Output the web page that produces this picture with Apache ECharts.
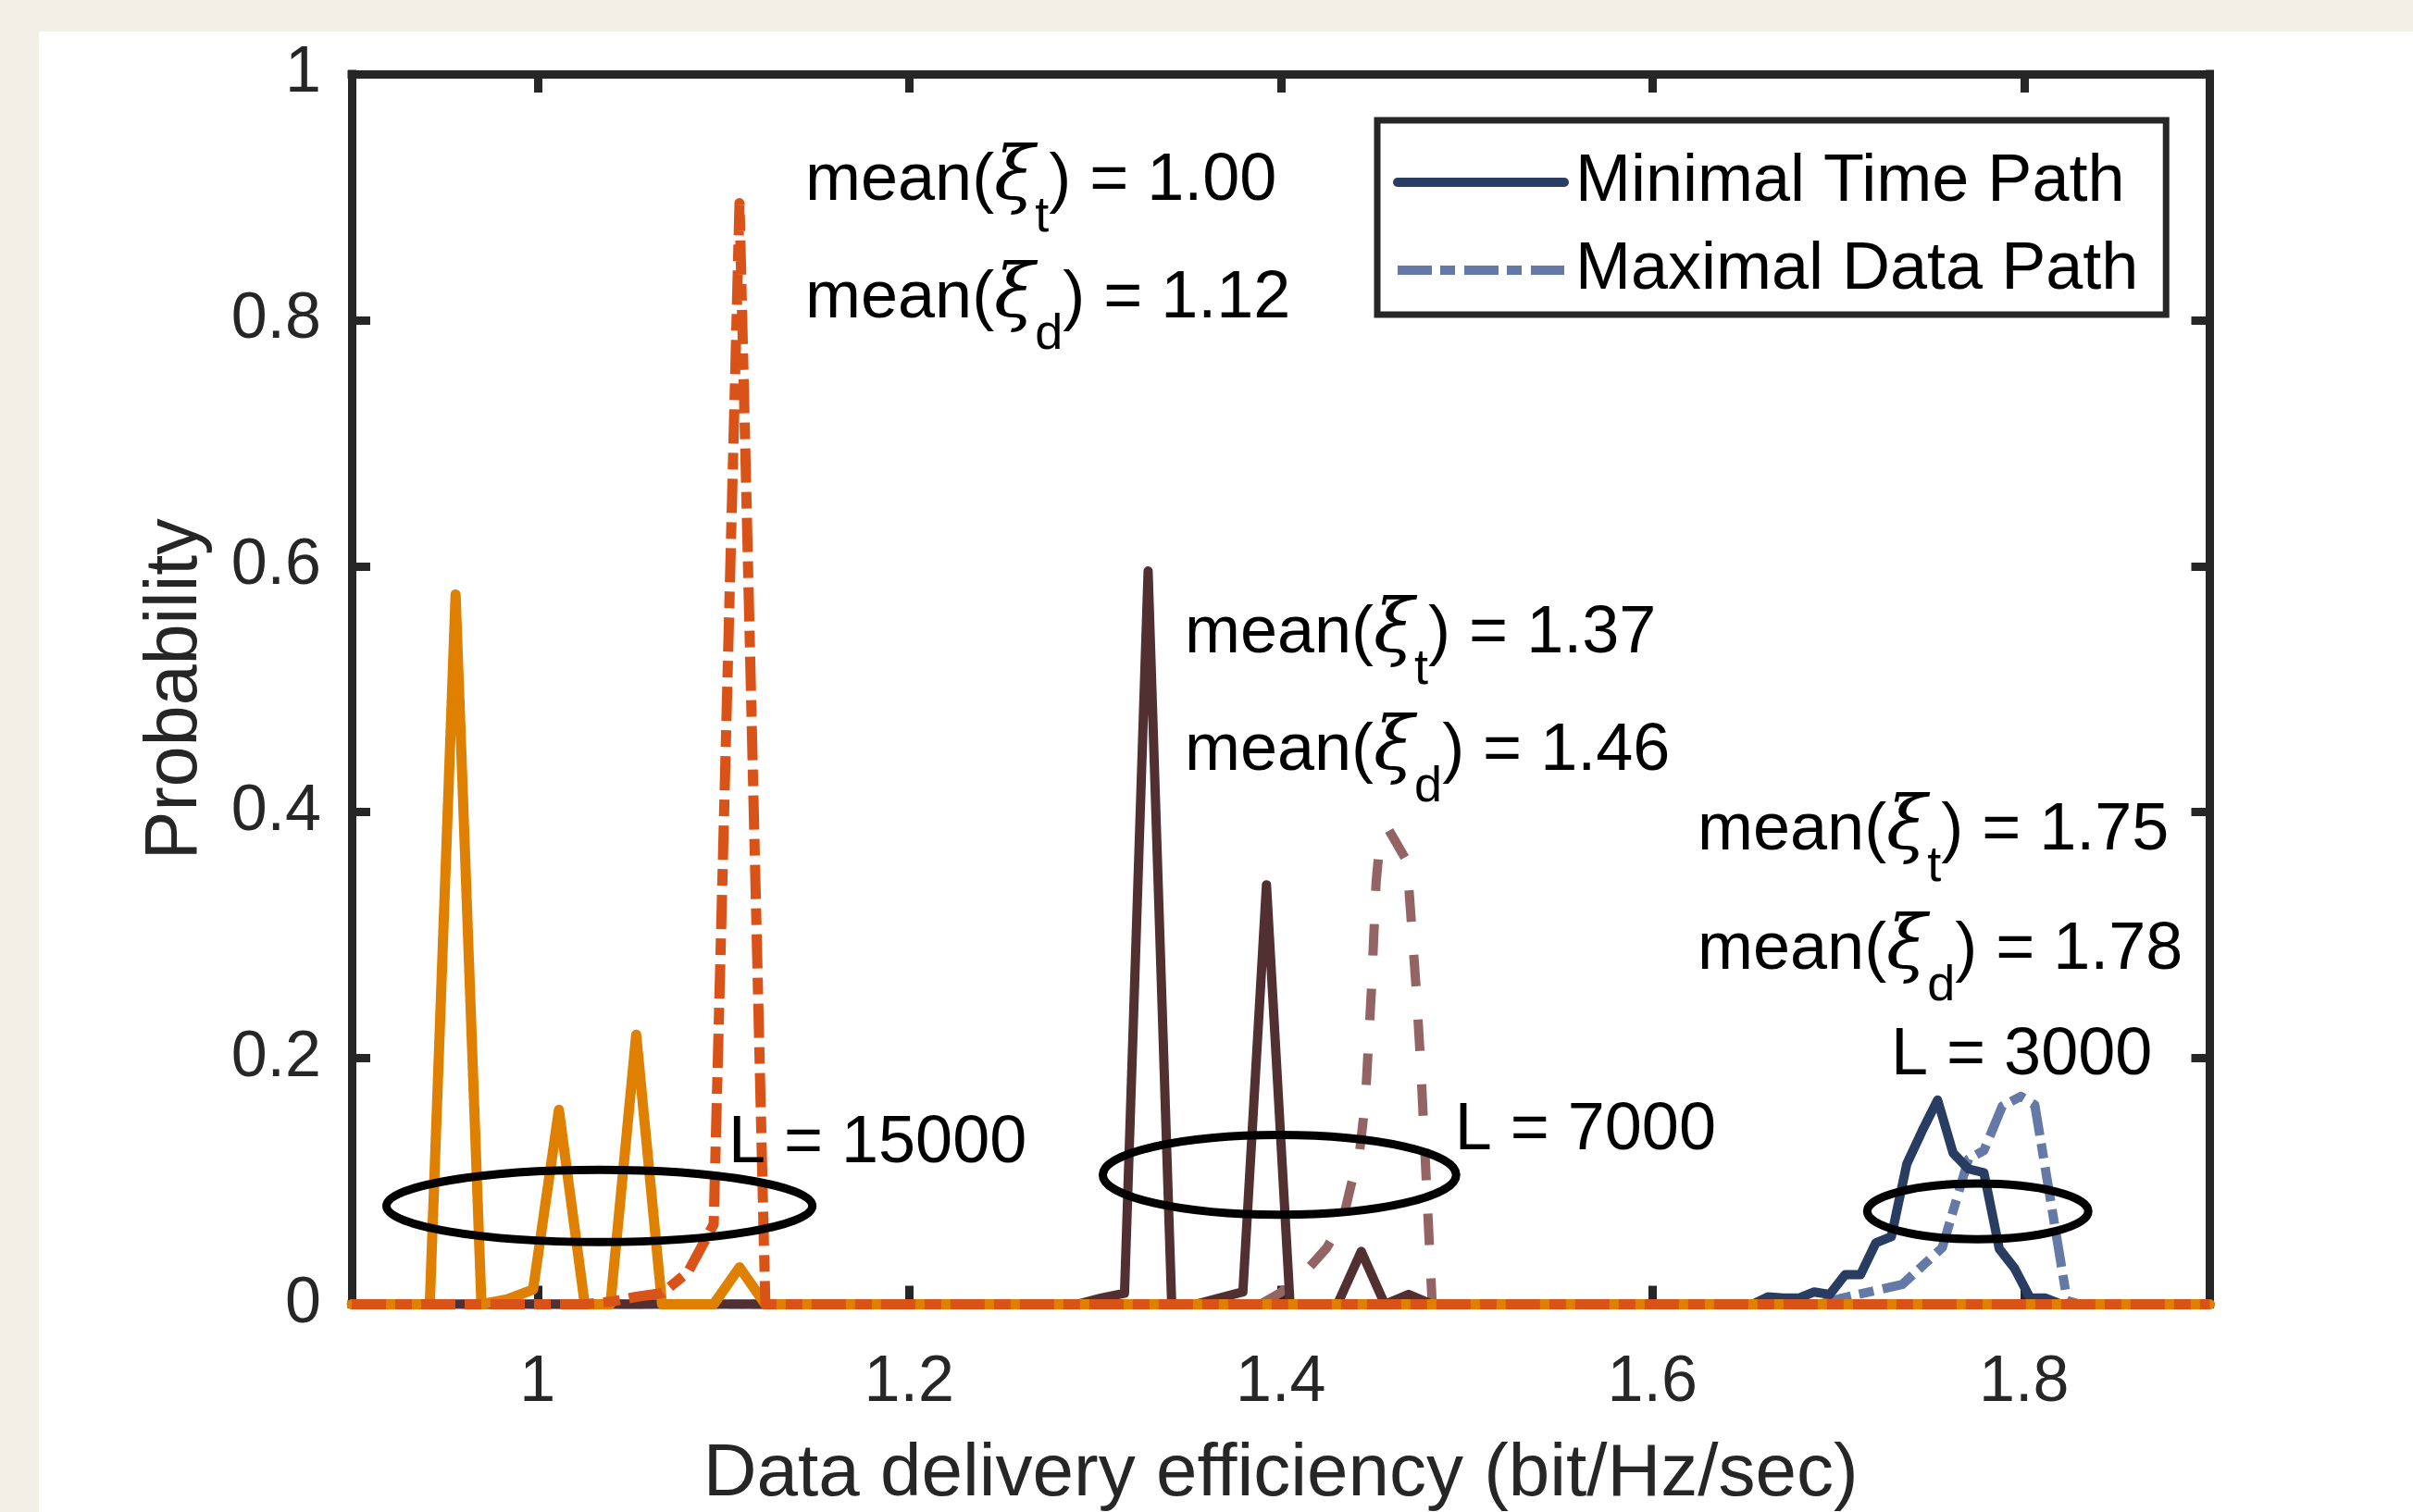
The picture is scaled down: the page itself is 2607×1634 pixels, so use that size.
<!DOCTYPE html>
<html>
<head>
<meta charset="utf-8">
<script src="https://cdn.jsdelivr.net/npm/echarts@6/dist/echarts.min.js"></script>
<style>
html,body{margin:0;padding:0;background:#F2EFE7;width:2607px;height:1634px;overflow:hidden;}
#chart{position:absolute;left:42px;top:34px;width:2565px;height:1600px;background:#ffffff;}
</style>
</head>
<body>
<div id="chart"></div>
<script>
// ---------------- DATA ----------------
const xTicks = [1, 1.2, 1.4, 1.6, 1.8];
const yTicks = [0, 0.2, 0.4, 0.6, 0.8, 1];

// L = 15000, Minimal Time Path (orange solid)
const minTime15000X = [0.9, 0.9281, 0.9420, 0.9559, 0.9698, 0.9837, 0.9976, 1.0115, 1.0254, 1.0392, 1.0531, 1.0670, 1.0809, 1.0948, 1.1087, 1.1226, 1.9];
const minTime15000Y = [0, 0, 0, 0.577, 0, 0.004, 0.012, 0.158, 0, 0, 0.219, 0, 0, 0, 0.030, 0, 0];

// L = 15000, Maximal Data Path (red dash-dot)
const maxData15000X = [0.9, 1.0254, 1.0392, 1.0531, 1.0670, 1.0809, 1.0948, 1.1087, 1.1226, 1.9];
const maxData15000Y = [0, 0, 0.002, 0.006, 0.009, 0.026, 0.065, 0.895, 0, 0];

// L = 7000, Minimal Time Path (dark brown solid)
const minTime7000X = [0.9, 1.2904, 1.3031, 1.3159, 1.3286, 1.3413, 1.3541, 1.3668, 1.3796, 1.3923, 1.4050, 1.4178, 1.4305, 1.4433, 1.4560, 1.4688, 1.4815, 1.9];
const minTime7000Y = [0, 0, 0.005, 0.009, 0.596, 0, 0, 0.005, 0.010, 0.341, 0, 0, 0, 0.043, 0, 0.008, 0, 0];

// L = 7000, Maximal Data Path (mauve dashed)
const maxData7000X = [0.9, 1.389, 1.3994, 1.4124, 1.4248, 1.4333, 1.4380, 1.4422, 1.4455, 1.4488, 1.4513, 1.4530, 1.4580, 1.4679, 1.4729, 1.4753, 1.4815, 1.9];
const maxData7000Y = [0, 0, 0.009, 0.025, 0.046, 0.068, 0.098, 0.121, 0.165, 0.256, 0.343, 0.370, 0.386, 0.360, 0.256, 0.195, 0, 0];

// L = 3000, Minimal Time Path (navy solid)
const minTime3000X = [0.9, 1.6539, 1.6622, 1.6705, 1.6788, 1.6871, 1.6954, 1.7037, 1.7120, 1.7203, 1.7286, 1.7369, 1.7452, 1.7535, 1.7618, 1.7701, 1.7784, 1.7867, 1.7950, 1.8033, 1.8116, 1.8199, 1.9];
const minTime3000Y = [0, 0, 0.006, 0.005, 0.005, 0.010, 0.008, 0.024, 0.024, 0.050, 0.055, 0.114, 0.141, 0.166, 0.123, 0.110, 0.107, 0.045, 0.029, 0.005, 0.005, 0, 0];

// L = 3000, Maximal Data Path (slate blue dash-dot)
const maxData3000X = [0.9, 1.690, 1.702, 1.7344, 1.756, 1.7701, 1.7784, 1.7883, 1.7983, 1.8058, 1.8232, 1.830, 1.9];
const maxData3000Y = [0, 0, 0.005, 0.016, 0.046, 0.118, 0.125, 0.161, 0.169, 0.162, 0.003, 0, 0];

// annotation ellipses (data units)
const ellipseCX = [1.0333, 1.3993, 1.7751];
const ellipseCY = [0.0799, 0.1052, 0.0755];
const ellipseRX = [0.1146, 0.0951, 0.0595];
const ellipseRY = [0.0293, 0.0324, 0.0226];

// annotation texts (anchor = left / baseline, data units)
const meanLabels = [
  {x: 1.1441, y: 0.8975, sub: 't', val: '1.00'},
  {x: 1.1441, y: 0.8020, sub: 'd', val: '1.12'},
  {x: 1.3483, y: 0.5295, sub: 't', val: '1.37'},
  {x: 1.3483, y: 0.4340, sub: 'd', val: '1.46'},
  {x: 1.6243, y: 0.3698, sub: 't', val: '1.75'},
  {x: 1.6243, y: 0.2728, sub: 'd', val: '1.78'}
];
const lengthLabels = [
  {x: 1.1027, y: 0.1150, text: 'L = 15000'},
  {x: 1.4936, y: 0.1257, text: 'L = 7000'},
  {x: 1.7284, y: 0.1865, text: 'L = 3000'}
];

// ---------------- CHART ----------------
const zip = (xs, ys) => xs.map((x, i) => [x, ys[i]]);
const AX = '#262626';
const FONT = 'Liberation Sans';

const chart = echarts.init(document.getElementById('chart'), null, {renderer: 'canvas'});

function axisCommon(extra) {
  return Object.assign({
    type: 'value',
    axisLine: {show: true, onZero: false, lineStyle: {color: AX, width: 9, cap: 'square'}},
    splitLine: {show: false}
  }, extra);
}

const xLabelStyle = {show: true, customValues: xTicks, margin: 50, fontSize: 70, color: AX, fontFamily: FONT};
const xTickStyle = {show: true, inside: true, length: 20, customValues: xTicks, lineStyle: {color: AX, width: 9}};
const yTickStyle = {show: true, inside: true, length: 20, lineStyle: {color: AX, width: 9}};

const option = {
  animation: false,
  backgroundColor: '#ffffff',
  grid: {left: 338, top: 46, right: 219.5, bottom: 224.5, containLabel: false, outerBoundsMode: 'none'},
  xAxis: [
    axisCommon({position: 'bottom', min: 0.9, max: 1.9,
      axisTick: xTickStyle, axisLabel: xLabelStyle,
      name: 'Data delivery efficiency (bit/Hz/sec)', nameLocation: 'middle', nameGap: 144,
      nameTextStyle: {fontSize: 80, color: AX, fontFamily: FONT}}),
    axisCommon({position: 'top', min: 0.9, max: 1.9,
      axisTick: xTickStyle, axisLabel: {show: false}})
  ],
  yAxis: [
    axisCommon({position: 'left', min: yTicks[0], max: yTicks[yTicks.length - 1], interval: 0.2,
      axisTick: yTickStyle,
      axisLabel: {show: true, margin: 33, fontSize: 70, color: AX, fontFamily: FONT},
      name: 'Probability', nameLocation: 'middle', nameGap: 150,
      nameTextStyle: {fontSize: 79, color: AX, fontFamily: FONT}}),
    axisCommon({position: 'right', min: yTicks[0], max: yTicks[yTicks.length - 1], interval: 0.2,
      axisTick: yTickStyle, axisLabel: {show: false}})
  ],
  legend: {
    data: ['Minimal Time Path', 'Maximal Data Path'],
    orient: 'vertical', left: 1446, top: 96,
    itemWidth: 180, itemHeight: 20, itemGap: 15,
    padding: [27, 30, 8, 17],
    backgroundColor: '#ffffff', borderColor: AX, borderWidth: 7, borderRadius: 0,
    selectedMode: false,
    itemStyle: {opacity: 0},
    lineStyle: {width: 10},
    textStyle: {fontSize: 72, fontFamily: FONT, color: '#000', lineHeight: 80, padding: [0, 0, 0, 7]}
  },
  series: [
    {name: 'Maximal Data Path', type: 'line', symbol: 'none', data: zip(maxData3000X, maxData3000Y),
      itemStyle: {color: '#6479A6'},
      lineStyle: {color: '#6479A6', width: 10, type: [37, 9, 16, 10], cap: 'butt', join: 'round'}},
    {name: 'Minimal Time Path', type: 'line', symbol: 'none', data: zip(minTime3000X, minTime3000Y),
      itemStyle: {color: '#293D63'},
      lineStyle: {color: '#293D63', width: 10, type: 'solid', cap: 'round', join: 'round'}},
    {name: 'Maximal Data Path (L=7000)', type: 'line', symbol: 'none', data: zip(maxData7000X, maxData7000Y),
      itemStyle: {color: '#946464'},
      lineStyle: {color: '#946464', width: 10, type: [34, 36], cap: 'butt', join: 'round'}},
    {name: 'Minimal Time Path (L=7000)', type: 'line', symbol: 'none', data: zip(minTime7000X, minTime7000Y),
      itemStyle: {color: '#522F30'},
      lineStyle: {color: '#522F30', width: 10, type: 'solid', cap: 'round', join: 'round'}},
    {name: 'Minimal Time Path (L=15000)', type: 'line', symbol: 'none', data: zip(minTime15000X, minTime15000Y),
      itemStyle: {color: '#E08000'},
      lineStyle: {color: '#E08000', width: 11, type: 'solid', cap: 'round', join: 'round'}},
    {name: 'Maximal Data Path (L=15000)', type: 'line', symbol: 'none', data: zip(maxData15000X, maxData15000Y),
      itemStyle: {color: '#D95319'},
      lineStyle: {color: '#D95319', width: 11, type: [37, 10, 18, 10], cap: 'butt', join: 'round'}}
  ]
};
chart.setOption(option);

// ---------------- ANNOTATIONS (positioned through the axes) ----------------
const toPx = (x, y) => chart.convertToPixel({xAxisIndex: 0, yAxisIndex: 0}, [x, y]);
const graphics = [];
for (let i = 0; i < ellipseCX.length; i++) {
  const c = toPx(ellipseCX[i], ellipseCY[i]);
  const ex = toPx(ellipseCX[i] + ellipseRX[i], ellipseCY[i]);
  const ey = toPx(ellipseCX[i], ellipseCY[i] + ellipseRY[i]);
  graphics.push({type: 'ellipse', z: 100, silent: true,
    shape: {cx: c[0], cy: c[1], rx: Math.abs(ex[0] - c[0]), ry: Math.abs(c[1] - ey[1])},
    style: {fill: 'none', stroke: '#000', lineWidth: 9}});
}
const MAIN = 72, BASE_OFF = 56;
const richStyles = {
  m: {fontSize: MAIN, fontFamily: FONT, fill: '#000', verticalAlign: 'top'},
  g: {fontSize: 80, fontFamily: 'DejaVu Serif', fontStyle: 'italic', fill: '#000', verticalAlign: 'top', padding: [-6, 0, 0, 0]},
  s: {fontSize: 54, fontFamily: FONT, fill: '#000', verticalAlign: 'top', padding: [48, 0, 0, 0]}
};
meanLabels.forEach(lb => {
  const p = toPx(lb.x, lb.y);
  graphics.push({type: 'text', z: 100, silent: true, x: p[0], y: p[1] - BASE_OFF,
    style: {text: '{m|mean(}{g|ξ}{s|' + lb.sub + '}{m|) = ' + lb.val + '}', rich: richStyles,
      align: 'left', verticalAlign: 'top', fontSize: MAIN, fontFamily: FONT, fill: '#000'}});
});
lengthLabels.forEach(lb => {
  const p = toPx(lb.x, lb.y);
  graphics.push({type: 'text', z: 100, silent: true, x: p[0], y: p[1] - BASE_OFF,
    style: {text: '{m|' + lb.text + '}', rich: richStyles,
      align: 'left', verticalAlign: 'top', fontSize: MAIN, fontFamily: FONT, fill: '#000'}});
});
chart.setOption({graphic: graphics});
</script>
</body>
</html>
